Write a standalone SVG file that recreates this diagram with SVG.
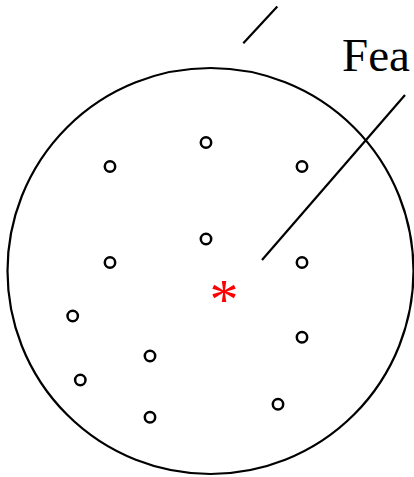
<svg xmlns="http://www.w3.org/2000/svg" width="414" height="477" viewBox="0 0 414 477">
<style>
.pt{fill:none;stroke:#000;stroke-width:2.5}
.ln{stroke:#000;stroke-width:2.2;fill:none}
.lbl{font-family:"Liberation Serif",serif;font-size:47px;fill:#000}
.star{font-family:"Liberation Serif",serif;font-size:58px;fill:#f00}
</style>
<rect width="414" height="477" fill="#fff"/>
<g id="boundary"><circle cx="210.5" cy="271" r="203" class="ln"/></g>
<g id="points">
<circle class="pt" cx="206" cy="142.5" r="5.2"/>
<circle class="pt" cx="110" cy="166.5" r="5.2"/>
<circle class="pt" cx="302" cy="166.5" r="5.2"/>
<circle class="pt" cx="206" cy="239" r="5.2"/>
<circle class="pt" cx="110" cy="262.5" r="5.2"/>
<circle class="pt" cx="302" cy="262.5" r="5.2"/>
<circle class="pt" cx="72.7" cy="316" r="5.2"/>
<circle class="pt" cx="302" cy="337.3" r="5.2"/>
<circle class="pt" cx="150" cy="356" r="5.2"/>
<circle class="pt" cx="80.3" cy="380" r="5.2"/>
<circle class="pt" cx="278" cy="404.3" r="5.2"/>
<circle class="pt" cx="150" cy="417.3" r="5.2"/>
</g>
<g id="center"><text class="star" x="224" y="319" text-anchor="middle">*</text></g>
<g id="connectors">
<line class="ln" x1="262" y1="260" x2="405" y2="95"/>
<line class="ln" x1="243.3" y1="43.3" x2="277.3" y2="6.5"/>
</g>
<g id="label"><text class="lbl" x="342" y="71">Fea</text></g>
</svg>
